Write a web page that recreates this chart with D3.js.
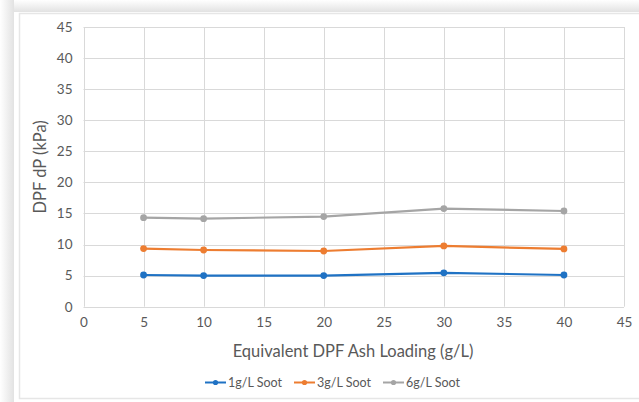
<!DOCTYPE html>
<html><head><meta charset="utf-8">
<script src="https://cdn.jsdelivr.net/npm/d3@7"></script>
<style>html,body{margin:0;padding:0;background:#fff;}svg{display:block;}</style>
</head><body>
<svg id="c" width="639" height="402"></svg>
<script>
const xValues = [5, 10, 20, 30, 40];
const soot1 = [5.1, 5.0, 5.0, 5.45, 5.1];
const soot3 = [9.35, 9.12, 8.96, 9.77, 9.3];
const soot6 = [14.33, 14.17, 14.5, 15.78, 15.4];
const seriesNames = ["1g/L Soot", "3g/L Soot", "6g/L Soot"];
const seriesColors = ["#1f72c4", "#ed7d31", "#a5a5a5"];
const xTicks = [0, 5, 10, 15, 20, 25, 30, 35, 40, 45];
const yTicks = [0, 5, 10, 15, 20, 25, 30, 35, 40, 45];
const xTitle = "Equivalent DPF Ash Loading (g/L)";
const yTitle = "DPF dP (kPa)";

const svg = d3.select("#c");
const font = "Lato, 'Open Sans', sans-serif";
const textCol = "#595959";

// background shadow / card
const defs = svg.append("defs");
const gL = defs.append("linearGradient").attr("id","gl").attr("x1",0).attr("x2",1).attr("y1",0).attr("y2",0);
gL.append("stop").attr("offset","0%").attr("stop-color","#ffffff");
gL.append("stop").attr("offset","100%").attr("stop-color","#e2e2e2");
const gT = defs.append("linearGradient").attr("id","gt").attr("x1",0).attr("x2",0).attr("y1",0).attr("y2",1);
gT.append("stop").attr("offset","0%").attr("stop-color","#ffffff");
gT.append("stop").attr("offset","100%").attr("stop-color","#e2e2e2");
svg.append("rect").attr("x",0).attr("y",0).attr("width",14).attr("height",402).attr("fill","url(#gl)");
svg.append("rect").attr("x",14).attr("y",0).attr("width",625).attr("height",12).attr("fill","url(#gt)");
svg.append("rect").attr("x",19.5).attr("y",13.5).attr("width",630).attr("height",385)
  .attr("fill","none").attr("stroke","#e6e6e6").attr("stroke-width",1.5);

const pLeft = 83.5, pRight = 624, pTop = 27, pBottom = 306.7;
const x = d3.scaleLinear().domain([0,45]).range([pLeft,pRight]);
const y = d3.scaleLinear().domain([0,45]).range([pBottom,pTop]);

// grid
svg.append("g").selectAll("line").data(yTicks).join("line")
  .attr("x1",pLeft).attr("x2",pRight).attr("y1",d=>Math.round(y(d))+0.5).attr("y2",d=>Math.round(y(d))+0.5)
  .attr("stroke","#d9d9d9").attr("stroke-width",1);
svg.append("g").selectAll("line").data(xTicks).join("line")
  .attr("y1",pTop).attr("y2",pBottom).attr("x1",d=>Math.round(x(d))+0.5).attr("x2",d=>Math.round(x(d))+0.5)
  .attr("stroke","#d9d9d9").attr("stroke-width",1);

// axes labels
const yAxis = d3.axisLeft(y).tickValues(yTicks).tickSize(0).tickPadding(11);
const ya = svg.append("g").attr("transform",`translate(${pLeft},0)`).call(yAxis);
ya.select(".domain").remove();
ya.selectAll("text").attr("font-family",font).attr("font-size",13.5).attr("fill",textCol);

const xAxis = d3.axisBottom(x).tickValues(xTicks).tickSize(0).tickPadding(11);
const xa = svg.append("g").attr("transform",`translate(0,${pBottom})`).call(xAxis);
xa.select(".domain").remove();
xa.selectAll("text").attr("font-family",font).attr("font-size",13.5).attr("fill",textCol);

svg.append("text").attr("x",353).attr("y",357).attr("text-anchor","middle")
  .attr("font-family",font).attr("font-size",16.5).attr("fill",textCol).text(xTitle);
svg.append("text").attr("transform",`translate(46,${(pTop+pBottom)/2}) rotate(-90)`).attr("text-anchor","middle")
  .attr("font-family",font).attr("font-size",16.5).attr("fill",textCol).text(yTitle);

// series
const allSeries = [soot1, soot3, soot6];
const line = d3.line().x((d,i)=>x(xValues[i])).y(d=>y(d));
allSeries.forEach((vals,k)=>{
  svg.append("path").datum(vals).attr("d",line).attr("fill","none")
    .attr("stroke",seriesColors[k]).attr("stroke-width",2.2).attr("stroke-linejoin","round");
  svg.append("g").selectAll("circle").data(vals).join("circle")
    .attr("cx",(d,i)=>x(xValues[i])).attr("cy",d=>y(d)).attr("r",3.4).attr("fill",seriesColors[k]);
});

// legend
const legX = [205, 294, 383];
const leg = svg.append("g");
seriesNames.forEach((n,k)=>{
  const lx = legX[k], ly = 382.5;
  leg.append("line").attr("x1",lx).attr("x2",lx+21).attr("y1",ly).attr("y2",ly)
    .attr("stroke",seriesColors[k]).attr("stroke-width",2);
  leg.append("circle").attr("cx",lx+10.5).attr("cy",ly).attr("r",2.6).attr("fill",seriesColors[k]);
  leg.append("text").attr("x",lx+23).attr("y",ly+4.5).attr("font-family",font).attr("font-size",12.5)
    .attr("fill",textCol).text(n);
});
</script>
</body></html>
